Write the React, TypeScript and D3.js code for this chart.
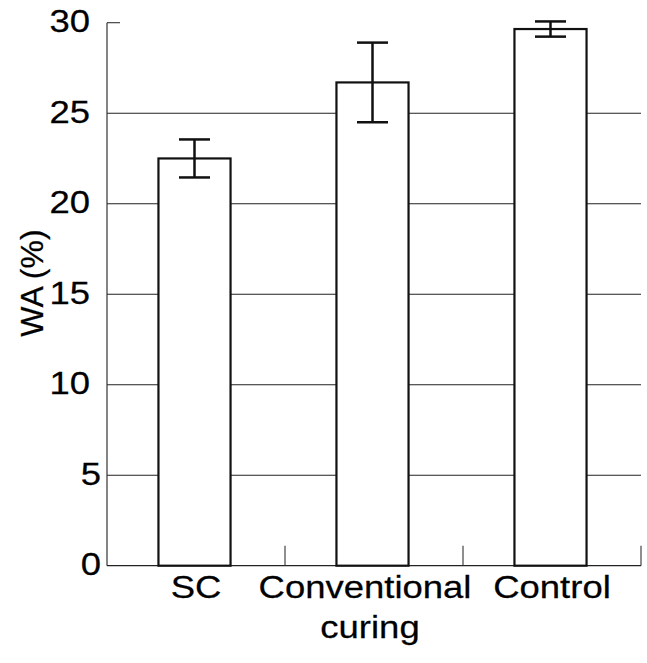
import React from "react";
import * as d3 from "d3";

const categories = ["SC", "Conventional curing", "Control"];
const labelLines = [["SC"], ["Conventional", "curing"], ["Control"]];
const means = [22.5, 26.7, 29.65];
const errors = [1.05, 2.2, 0.42];
const yTicks = [0, 5, 10, 15, 20, 25, 30];
const gridValues = [5, 10, 15, 20, 25];

const W = 647;
const H = 663;
const FONT = "'Liberation Sans', Arial, Helvetica, sans-serif";
const SX = 1.14;

export default function App() {
  const y = d3.scaleLinear().domain([0, 30]).range([565.7, 22.7]);
  const x = d3.scaleBand<string>().domain(categories).range([107, 641]).padding(0);
  const bw = x.bandwidth() * 0.405;
  const capW = 31;
  const left = x.range()[0];
  const right = x.range()[1];
  const labelDx = [0, -9, 0];
  const labelDx2 = [0, -4, 0];

  return (
    <svg
      width={W}
      height={H}
      style={{ position: "absolute", left: 0, top: 0, background: "#fff" }}
    >
      <rect x={0} y={0} width={W} height={H} fill="#fff" />
      {gridValues.map((v) => (
        <line key={"g" + v} x1={left} x2={right} y1={y(v)} y2={y(v)} stroke="#222" strokeWidth={1.1} />
      ))}
      <line x1={left} x2={left + 13} y1={y(30)} y2={y(30)} stroke="#333" strokeWidth={1.1} />
      <line x1={left} x2={left} y1={y(0)} y2={y(30)} stroke="#333" strokeWidth={1.2} />
      <line x1={left} x2={right} y1={y(0)} y2={y(0)} stroke="#222" strokeWidth={1.3} />
      {categories.map((c) => (
        <line
          key={"t" + c}
          x1={(x(c) as number) + x.bandwidth()}
          x2={(x(c) as number) + x.bandwidth()}
          y1={y(0)}
          y2={y(0) - 20}
          stroke="#333"
          strokeWidth={1.1}
        />
      ))}
      {categories.map((c, i) => {
        const cx = (x(c) as number) + x.bandwidth() / 2 - 1.5;
        return (
          <rect
            key={"b" + c}
            x={cx - bw / 2}
            y={y(means[i])}
            width={bw}
            height={y(0) - y(means[i])}
            fill="#fff"
            stroke="#111"
            strokeWidth={2.2}
          />
        );
      })}
      {categories.map((c, i) => {
        const cx = (x(c) as number) + x.bandwidth() / 2 - 1.5;
        const yt = y(means[i] + errors[i]);
        const yb = y(means[i] - errors[i]);
        return (
          <g key={"e" + c} stroke="#111" strokeWidth={2.5}>
            <line x1={cx} x2={cx} y1={yt} y2={yb} />
            <line x1={cx - capW / 2} x2={cx + capW / 2} y1={yt} y2={yt} />
            <line x1={cx - capW / 2} x2={cx + capW / 2} y1={yb} y2={yb} />
          </g>
        );
      })}
      {yTicks.map((t) => (
        <text
          key={"yl" + t}
          transform={`translate(${left - (t >= 10 ? 17 : 6)},${y(t) + 9.5}) scale(${SX},1)`}
          textAnchor="end"
          fontFamily={FONT}
          fontSize={32}
          fill="#000"
          stroke="#000"
          strokeWidth={0.25}
        >
          {t}
        </text>
      ))}
      <text
        transform={`translate(43,283) rotate(-90)`}
        textAnchor="middle"
        fontFamily={FONT}
        fontSize={32}
        fill="#000"
        stroke="#000"
        strokeWidth={0.25}
      >
        WA (%)
      </text>
      {categories.map((c, i) =>
        labelLines[i].map((line, j) => (
          <text
            key={"xl" + c + j}
            transform={`translate(${(x(c) as number) + x.bandwidth() / 2 + (j === 0 ? labelDx[i] : labelDx2[i])},${598 + j * 40}) scale(${SX},1)`}
            textAnchor="middle"
            fontFamily={FONT}
            fontSize={32}
            fill="#000"
            stroke="#000"
            strokeWidth={0.25}
          >
            {line}
          </text>
        ))
      )}
    </svg>
  );
}
